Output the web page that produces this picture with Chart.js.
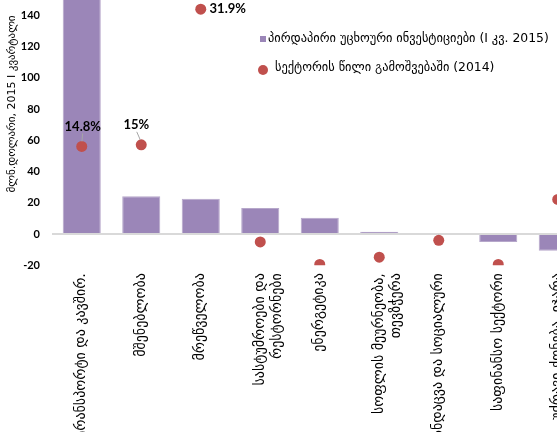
<!DOCTYPE html>
<html>
<head>
<meta charset="utf-8">
<script src="https://cdn.jsdelivr.net/npm/chart.js@4.4.0/dist/chart.umd.min.js"></script>
<style>
html, body { margin: 0; padding: 0; width: 557px; height: 432px; overflow: hidden; background: #fff; }
/* the picture is a crop of a bigger chart, so the canvas runs past the window */
#wrap { position: absolute; left: 0; top: -40px; width: 618px; height: 520px; }
</style>
</head>
<body>
<div id="wrap"><canvas id="myChart"></canvas></div>
<script>
var sectors = [
    'ტრანსპორტი და კავშირ.',
    'მშენებლობა',
    'მრეწველობა',
    ['სასტუმროები და', 'რესტორნები'],
    'ენერგეტიკა',
    ['სოფლის მეურნეობა,', 'თევზჭერა'],
    'ჯანდაცვა და სოციალური',
    'საფინანსო სექტორი',
    ['უძრავი ქონება, იჯარა', 'და კომერცია']
];
var fdi = [152, 24.2, 22.6, 16.7, 10.4, 1.5, 0.6, -5.1, -10.7];
var share = [14.8, 15, 31.9, 2.9, 0.1, 1.0, 3.1, 0.1, 8.2];
var shareLabels = ['14.8%', '15%', '31.9%', '', '', '', '', '', ''];
var yTicks = [-20, 0, 20, 40, 60, 80, 100, 120, 140, 160];
var shareRange = [0, 35];
var fdiName = 'პირდაპირი უცხოური ინვესტიციები (I კვ. 2015)';
var shareName = 'სექტორის წილი გამოშვებაში (2014)';
var yTitle = 'მლნ.დოლარი, 2015 I კვარტალი';

var barColor = '#9b86b8';
var dotColor = '#c0504d';
var OFF = 40; // wrapper shift

// label offsets from the dot: dx, dy, leader line?
var labelPos = [[1, -20, true], [-5, -20, true], [27, 0, false]];

var extras = {
    id: 'extras',
    afterDatasetsDraw: function (chart) {
        var ctx = chart.ctx;
        var pts = chart.getDatasetMeta(0).data;
        ctx.save();
        // data labels
        ctx.font = 'bold 13px Lato, "DejaVu Sans"';
        ctx.fillStyle = '#000';
        ctx.textAlign = 'center';
        ctx.textBaseline = 'middle';
        for (var i = 0; i < shareLabels.length; i++) {
            if (!shareLabels[i]) continue;
            var p = pts[i], o = labelPos[i];
            if (o[2]) {
                ctx.strokeStyle = '#a6a6a6';
                ctx.lineWidth = 1;
                ctx.beginPath();
                ctx.moveTo(p.x + o[0] * 0.9, p.y + o[1] + 7);
                ctx.lineTo(p.x + o[0] * 0.2, p.y - 5);
                ctx.stroke();
            }
            ctx.fillText(shareLabels[i], p.x + o[0], p.y + o[1]);
        }
        // legend inside the plot
        ctx.textAlign = 'left';
        ctx.font = '12.4px "DejaVu Sans"';
        ctx.fillStyle = barColor;
        ctx.fillRect(260, 36 + OFF, 6, 6);
        ctx.fillStyle = '#000';
        ctx.fillText(fdiName, 268, 39 + OFF);
        ctx.fillStyle = dotColor;
        ctx.beginPath();
        ctx.arc(263, 70 + OFF, 5, 0, Math.PI * 2);
        ctx.fill();
        ctx.fillStyle = '#000';
        ctx.fillText(shareName, 275, 68 + OFF);
        // y axis title
        ctx.translate(12, 104 + OFF);
        ctx.rotate(-Math.PI / 2);
        ctx.textAlign = 'center';
        ctx.font = '11px "DejaVu Sans"';
        ctx.fillText(yTitle, 0, 0);
        ctx.restore();
    }
};

var ctx = document.getElementById('myChart').getContext('2d');
var myChart = new Chart(ctx, {
    type: 'bar',
    data: {
        labels: sectors,
        datasets: [{
            type: 'line',
            label: shareName,
            data: share,
            yAxisID: 'y2',
            showLine: false,
            pointRadius: 5.5,
            pointHoverRadius: 5.5,
            pointBackgroundColor: dotColor,
            pointBorderWidth: 0,
            order: 0
        }, {
            label: fdiName,
            data: fdi,
            backgroundColor: barColor,
            borderColor: '#b6a7ca',
            borderWidth: 1,
            barPercentage: 0.64,
            categoryPercentage: 1,
            order: 1
        }]
    },
    options: {
        responsive: true,
        maintainAspectRatio: false,
        animation: false,
        layout: { padding: { top: 24.3, left: 0, right: 30.5, bottom: 0 } },
        plugins: { legend: { display: false }, tooltip: { enabled: false } },
        scales: {
            x: {
                grid: { display: false, drawTicks: false },
                border: { display: false },
                ticks: {
                    autoSkip: false,
                    minRotation: 90,
                    maxRotation: 90,
                    padding: 8,
                    color: '#000',
                    font: { family: '"DejaVu Sans"', size: 14 }
                },
                afterFit: function (s) { s.height = 520 - 305.2; }
            },
            y: {
                min: yTicks[0],
                max: yTicks[yTicks.length - 1],
                afterBuildTicks: function (s) { s.ticks = yTicks.map(function (v) { return { value: v }; }); },
                grid: {
                    drawTicks: false,
                    lineWidth: 2,
                    color: function (c) { return c.tick && c.tick.value === 0 ? '#d9d9d9' : 'rgba(0,0,0,0)'; }
                },
                border: { display: false },
                ticks: {
                    padding: 12,
                    color: '#000',
                    font: { family: 'Lato, "DejaVu Sans"', size: 11, weight: 'bold' }
                },
                afterFit: function (s) { s.width = 52; }
            },
            y2: {
                display: false,
                min: shareRange[0],
                max: shareRange[1]
            }
        }
    },
    plugins: [extras]
});
</script>
</body>
</html>
